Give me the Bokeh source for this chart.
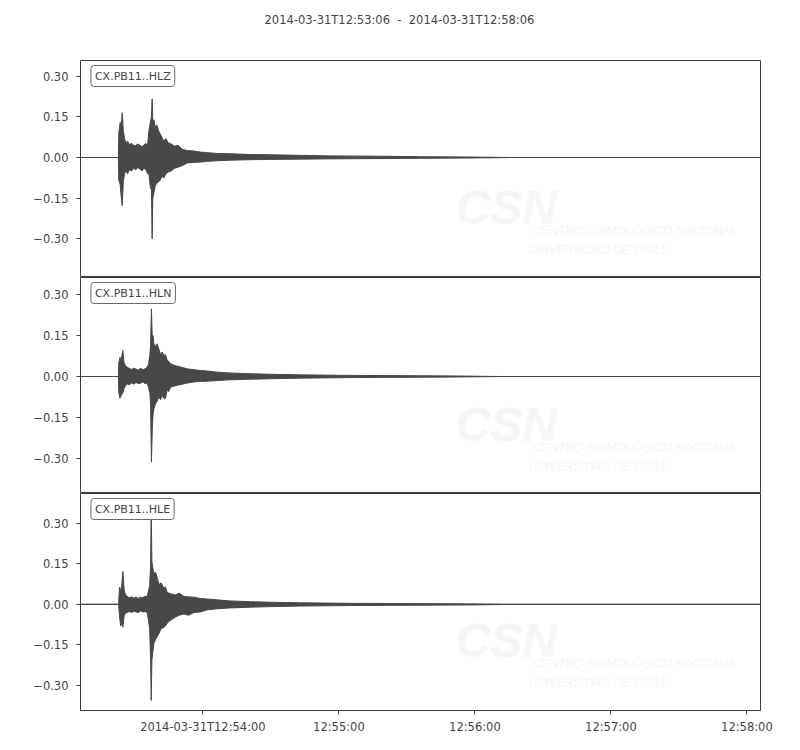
from bokeh.plotting import figure
from bokeh.layouts import column
from bokeh.models import (FixedTicker, Span, Label, Range1d, ColumnDataSource,
                          CustomJSTickFormatter, Title)
from bokeh.embed import file_html
from bokeh.resources import INLINE

# ---------------- data ----------------
title_text = "2014-03-31T12:53:06\u00a0 -\u00a0 2014-03-31T12:58:06"
channels = ["CX.PB11..HLZ", "CX.PB11..HLN", "CX.PB11..HLE"]

# time axis: seconds after 2014-03-31T12:53:06
x_start, x_end = 0, 300
tick_seconds = [54, 114, 174, 234, 294]
tick_labels = ["2014-03-31T12:54:00", "12:55:00", "12:56:00", "12:57:00", "12:58:00"]
y_ticks = [-0.30, -0.15, 0.0, 0.15, 0.30]

# envelope of each trace (upper / lower excursion)
t_hlz = [0, 16.7, 16.9, 17.5, 17.9, 18.4, 18.9, 19.4, 20.0, 20.8, 21.6, 22.5, 23.4, 24.3, 25.2,
         26.2, 27.1, 28.0, 28.9, 29.6, 30.2, 30.8, 31.3, 31.6, 31.9, 32.4, 33.0, 33.7, 34.4, 35.1,
         35.9, 36.8, 37.7, 38.6, 40.0, 41.5, 43.0, 45.0, 47.1, 50.0, 52.9, 56.0, 60.3, 66, 75, 84,
         97, 110, 130, 150, 170, 190, 300]
up_hlz = [0, 0, 0.09, 0.13, 0.11, 0.166, 0.10, 0.07, 0.055, 0.06, 0.048, 0.052, 0.046, 0.044,
          0.05, 0.045, 0.040, 0.046, 0.052, 0.045, 0.10, 0.13, 0.15, 0.217, 0.13, 0.14, 0.11,
          0.12, 0.10, 0.088, 0.075, 0.06, 0.07, 0.055, 0.05, 0.042, 0.045, 0.03, 0.026, 0.024,
          0.02, 0.018, 0.015, 0.014, 0.011, 0.010, 0.008, 0.006, 0.005, 0.003, 0.002, 0, 0]
lo_hlz = [0, 0, -0.085, -0.10, -0.14, -0.178, -0.09, -0.06, -0.05, -0.06, -0.045, -0.05, -0.04,
          -0.045, -0.038, -0.042, -0.05, -0.04, -0.045, -0.06, -0.06, -0.11, -0.12, -0.301, -0.15,
          -0.13, -0.104, -0.095, -0.09, -0.085, -0.07, -0.075, -0.06, -0.054, -0.05, -0.04, -0.036,
          -0.03, -0.02, -0.018, -0.017, -0.014, -0.012, -0.01, -0.008, -0.007, -0.006, -0.005,
          -0.004, -0.003, -0.002, 0, 0]

t_hln = [0, 16.7, 16.9, 17.4, 17.9, 18.7, 19.2, 19.8, 20.6, 21.5, 22.5, 23.5, 24.5, 25.5, 26.5,
         27.5, 28.5, 29.4, 30.0, 30.6, 30.9, 31.3, 31.7, 32.0, 32.4, 33.1, 33.8, 34.6, 35.3, 36.0,
         36.8, 37.5, 38.2, 39.0, 39.7, 41.0, 42.7, 45.0, 47.1, 50.0, 52.9, 56.0, 60.3, 66, 75, 85,
         97, 120, 145, 165, 185, 300]
up_hln = [0, 0, 0.05, 0.07, 0.06, 0.095, 0.05, 0.04, 0.034, 0.03, 0.026, 0.03, 0.027, 0.024,
          0.03, 0.025, 0.028, 0.034, 0.045, 0.08, 0.11, 0.248, 0.13, 0.15, 0.12, 0.11, 0.12, 0.10,
          0.08, 0.09, 0.077, 0.08, 0.06, 0.055, 0.047, 0.042, 0.038, 0.033, 0.028, 0.025, 0.022,
          0.02, 0.016, 0.013, 0.01, 0.008, 0.006, 0.004, 0.003, 0.002, 0, 0]
lo_hln = [0, 0, -0.06, -0.079, -0.07, -0.06, -0.045, -0.035, -0.027, -0.03, -0.024, -0.028,
          -0.022, -0.026, -0.025, -0.02, -0.026, -0.024, -0.04, -0.06, -0.10, -0.314, -0.186,
          -0.14, -0.118, -0.10, -0.09, -0.076, -0.085, -0.07, -0.08, -0.08, -0.05, -0.055, -0.039,
          -0.036, -0.032, -0.028, -0.024, -0.02, -0.018, -0.017, -0.015, -0.012, -0.01, -0.008,
          -0.006, -0.004, -0.003, -0.002, 0, 0]

t_hle = [0, 16.8, 17.2, 17.7, 18.2, 18.7, 19.3, 19.9, 20.6, 21.5, 22.5, 23.5, 24.5, 25.5, 26.5,
         27.5, 28.5, 29.4, 30.0, 30.5, 30.9, 31.2, 31.5, 32.0, 32.4, 33.1, 33.8, 34.6, 35.5, 36.8,
         37.5, 38.2, 39.5, 41.9, 43.5, 45.6, 47.5, 50.0, 52.9, 56.0, 60.3, 66, 75, 85, 97, 120,
         145, 170, 190, 300]
up_hle = [0, 0, 0.064, 0.05, 0.07, 0.122, 0.05, 0.035, 0.03, 0.025, 0.028, 0.024, 0.027, 0.022,
          0.027, 0.025, 0.03, 0.028, 0.05, 0.07, 0.14, 0.35, 0.16, 0.13, 0.114, 0.12, 0.10, 0.074,
          0.08, 0.06, 0.065, 0.045, 0.04, 0.035, 0.042, 0.03, 0.028, 0.027, 0.022, 0.02, 0.017,
          0.013, 0.01, 0.008, 0.006, 0.004, 0.003, 0.002, 0, 0]
lo_hle = [0, 0, -0.042, -0.08, -0.07, -0.084, -0.04, -0.032, -0.03, -0.026, -0.03, -0.025,
          -0.028, -0.03, -0.024, -0.028, -0.026, -0.03, -0.06, -0.09, -0.20, -0.356, -0.207,
          -0.17, -0.145, -0.13, -0.12, -0.108, -0.09, -0.085, -0.08, -0.07, -0.06, -0.047, -0.04,
          -0.035, -0.04, -0.03, -0.028, -0.02, -0.016, -0.013, -0.01, -0.008, -0.006, -0.004,
          -0.003, -0.002, 0, 0]

y_ranges = [(-0.444, 0.359), (-0.429, 0.363), (-0.393, 0.411)]

traces = [(t_hlz, up_hlz, lo_hlz), (t_hln, up_hln, lo_hln), (t_hle, up_hle, lo_hle)]

# ---------------- styling ----------------
FONT = "DejaVu Sans"
TXT = "#444444"
TRACE = "#484848"
FS = "11.5px"
frame_heights = [217, 216, 217]

figs = []
for i, (name, (t, up, lo), (y0, y1)) in enumerate(zip(channels, traces, y_ranges)):
    first = i == 0
    last = i == len(channels) - 1
    p = figure(frame_width=680, frame_height=frame_heights[i],
               x_range=Range1d(x_start, x_end), y_range=Range1d(y0, y1),
               output_backend="svg", toolbar_location=None, title=None,
               min_border_left=80, min_border_right=24,
               min_border_top=60 if first else 0,
               min_border_bottom=32 if last else 0)
    p.background_fill_color = "white"
    p.border_fill_color = "white"
    p.outline_line_color = "#3c3c3c"
    p.outline_line_width = 1
    p.xgrid.visible = False
    p.ygrid.visible = False

    if first:
        # spacer panel next to the frame, then the real title further out
        p.add_layout(Title(text=" ", text_font_size=FS, standoff=20), "above")
        p.add_layout(Title(text=title_text, align="left", vertical_align="bottom",
                           text_font=FONT, text_font_size=FS, text_font_style="normal",
                           text_color=TXT, offset=184, standoff=0), "above")

    # watermark (very faint)
    fh = frame_heights[i]
    def ypx(px):
        return y1 - px / fh * (y1 - y0)
    for txt, xx, yy, size, style in [
            ("CSN", 165.5, ypx(147), "48px", "bold italic"),
            ("CENTRO SISMOLÓGICO NACIONAL", 199.5, ypx(170), "12px", "italic"),
            ("UNIVERSIDAD DE CHILE", 197.5, ypx(189), "12px", "italic")]:
        p.add_layout(Label(x=xx, y=yy, text=txt, text_color="#f6f6f6",
                           text_font="Liberation Sans", text_font_size=size,
                           text_font_style=style, text_baseline="alphabetic",
                           level="underlay"))

    src = ColumnDataSource(dict(t=t, up=up, lo=lo))
    p.varea(x="t", y1="lo", y2="up", source=src, fill_color=TRACE)
    p.line(x="t", y="up", source=src, line_color=TRACE, line_width=1)
    p.line(x="t", y="lo", source=src, line_color=TRACE, line_width=1)
    p.add_layout(Span(location=0, dimension="width", line_color=TRACE, line_width=1.2))

    # channel label box
    p.add_layout(Label(x=4.6, y=ypx(5), text=name, text_font=FONT, text_font_size="11px",
                       text_color=TXT, text_baseline="top", text_align="left",
                       background_fill_color="white", border_line_color="#6a6a6a",
                       border_line_width=1, border_radius=3, padding=4))

    # y axis
    ya = p.yaxis[0]
    ya.ticker = FixedTicker(ticks=y_ticks)
    ya.formatter = CustomJSTickFormatter(
        code="return (tick < 0 ? '\u2212' : '') + Math.abs(tick).toFixed(2);")
    ya.axis_line_color = None
    ya.major_tick_line_color = "#3c3c3c"
    ya.major_tick_out = 4
    ya.major_tick_in = 0
    ya.minor_tick_line_color = None
    ya.major_label_text_font = FONT
    ya.major_label_text_font_size = FS
    ya.major_label_text_color = TXT
    ya.major_label_standoff = 8

    # x axis
    xa = p.xaxis[0]
    if last:
        xa.ticker = FixedTicker(ticks=tick_seconds)
        xa.major_label_overrides = {s: lab for s, lab in zip(tick_seconds, tick_labels)}
        xa.axis_line_color = None
        xa.major_tick_line_color = "#3c3c3c"
        xa.major_tick_out = 4
        xa.major_tick_in = 0
        xa.minor_tick_line_color = None
        xa.major_label_text_font = FONT
        xa.major_label_text_font_size = FS
        xa.major_label_text_color = TXT
        xa.major_label_standoff = 5
    else:
        xa.visible = False
    figs.append(p)

layout = column(*figs, spacing=0)
open("out.html", "w").write(file_html(layout, INLINE))
